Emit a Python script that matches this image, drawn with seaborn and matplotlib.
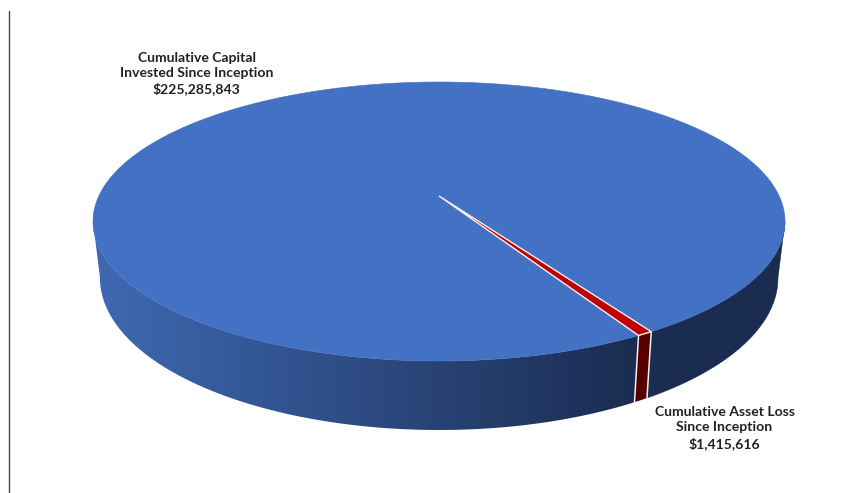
import numpy as np
import matplotlib
matplotlib.use("Agg")
import matplotlib.pyplot as plt
from matplotlib.colors import LinearSegmentedColormap
from matplotlib.lines import Line2D
from matplotlib.patches import Polygon
import seaborn as sns

# Amounts shown on the chart
categories = ["Cumulative Capital\nInvested Since Inception", "Cumulative Asset Loss\nSince Inception"]
amounts = [225285843, 1415616]

TOP_COLORS = ["#4371c3", "#c00000"]
WALL_LEFT, WALL_RIGHT = "#3f6ab4", "#1a2c50"
WALL_LOSS = "#560000"

W, H = 846, 493
CX, CY, RX, RY = 439.0, 221.5, 346.0, 139.5   # top rim, pixels
BOT_CY, BOT_RX, BOT_RY = 278.0, 339.0, 152.0  # bottom rim, pixels
TILT = 0.183                                  # perspective shift of the pie centre

sns.set_theme(style="white")
plt.rcParams["font.family"] = ["Lato", "DejaVu Sans"]

fig = plt.figure(figsize=(W / 100, H / 100), dpi=100, facecolor="white")
ax = fig.add_axes([0, 0, 1, 1])

wedges, _ = ax.pie(amounts, colors=TOP_COLORS, startangle=-58.2, radius=1.0)
ax.set_aspect("auto")
x_range = ((0 - CX) / RX, (W - CX) / RX)
y_range = ((CY - H) / RY, CY / RY)
ax.axis("off")


def project(theta_deg):
    """Rim position (unit circle) of a pie angle seen under perspective."""
    t = np.radians(theta_deg)
    u, v = np.cos(t), np.sin(t)
    k = 1 + TILT * v
    return np.sqrt(1 - TILT ** 2) * u / k, (v + TILT) / k


def wall_bottom(x, y):
    """Bottom-rim point under a top-rim point, in data units."""
    return x * BOT_RX / RX, (CY - BOT_CY + y * BOT_RY) / RY


def band(x_top, y_top):
    """Closed outline between a stretch of top rim and the bottom rim below it."""
    x_low, y_low = wall_bottom(x_top, y_top)
    return np.c_[np.r_[x_top, x_low[::-1]], np.r_[y_top, y_low[::-1]]]


loss = wedges[1]
loss_start, loss_end = loss.theta1 - 360, loss.theta2 - 360

# The wall runs between the two widest points of the projected rim
side_angle = np.degrees(np.arcsin(TILT))
left_side = np.linspace(-180 + side_angle, loss_start, 300)
right_side = np.linspace(loss_end, -side_angle, 200)
outline_left = band(*project(left_side))
outline_right = band(*project(right_side))

# Left-to-right gradient up to the loss slice, flat dark beyond it
x_start = -1.02
x_stop = project(np.array([loss_start]))[0][0]
wall_cmap = LinearSegmentedColormap.from_list("wall", [WALL_LEFT, WALL_RIGHT])
gradient = ax.imshow(np.linspace(0, 1, 512)[None, :], cmap=wall_cmap, aspect="auto",
                     extent=[x_start, x_stop, y_range[0], y_range[1]], zorder=1,
                     interpolation="bilinear")
left_patch = Polygon(outline_left, closed=True, transform=ax.transData, fc="none", ec="none")
ax.add_patch(left_patch)
gradient.set_clip_path(left_patch)
ax.add_patch(Polygon(outline_right, closed=True, fc=WALL_RIGHT, ec=WALL_RIGHT, lw=0.3, zorder=1))
ax.set_xlim(*x_range)
ax.set_ylim(*y_range)

# Wall section of the loss slice
xa, ya = project(np.linspace(loss.theta1, loss.theta2, 12))
xb, yb = wall_bottom(xa, ya)
ax.add_patch(Polygon(band(xa, ya), closed=True, fc=WALL_LOSS, ec="none", zorder=2))
for i in (0, -1):
    ax.plot([xa[i], xb[i]], [ya[i], yb[i]], color="#f4eeee", lw=1.1, zorder=3)

# Top face: each pie wedge is redrawn through the perspective mapping
for wedge, color in zip(wedges, TOP_COLORS):
    wedge.set_visible(False)
    n = max(int(wedge.theta2 - wedge.theta1) * 2, 12)
    xr, yr = project(np.linspace(wedge.theta1, wedge.theta2, n))
    pts = np.c_[np.r_[0, xr], np.r_[TILT, yr]]
    is_loss = wedge is loss
    ax.add_patch(Polygon(pts, closed=True, fc=color,
                         ec="#f6f0f0" if is_loss else color,
                         lw=1.0 if is_loss else 0.4, zorder=5 if is_loss else 4))

# Slice labels
labels = [f"{name}\n${value:,.0f}" for name, value in zip(categories, amounts)]
fig.text(196.5 / W, 1 - 73.5 / H, labels[0], ha="center", va="center", fontsize=10.1,
         fontweight="bold", color="#222222", linespacing=1.3)
fig.text(724.5 / W, 1 - 428 / H, labels[1], ha="center", va="center", fontsize=10.1,
         fontweight="bold", color="#222222", linespacing=1.3)

# Thin rule on the left edge
fig.add_artist(Line2D([9.3 / W, 9.3 / W], [0, 1 - 11 / H], color="#444444", lw=1.0))

fig.savefig("out.png", dpi=100, facecolor="white")
